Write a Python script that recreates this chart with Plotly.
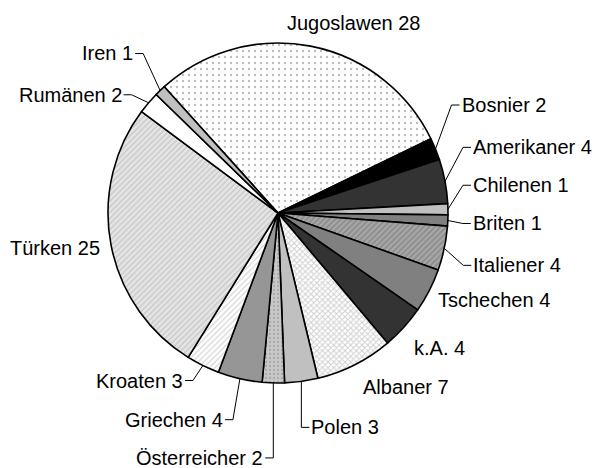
import numpy as np
import plotly.graph_objects as go

# ---- data ----
labels = ["Jugoslawen", "Bosnier", "Amerikaner", "Chilenen", "Briten", "Italiener",
          "Tschechen", "k.A.", "Albaner", "Polen", "Österreicher", "Griechen",
          "Kroaten", "Türken", "Rumänen", "Iren"]
values = [28, 2, 4, 1, 1, 4, 4, 4, 7, 3, 2, 4, 3, 25, 2, 1]

# ---- styles ----
base_colors = ["#ffffff", "#000000", "#333333", "#c0c0c0", "#808080", "#a8a8a8",
               "#808080", "#333333", "#ffffff", "#c0c0c0", "#c8c8c8", "#969696",
               "#ffffff", "#e6e6e6", "#ffffff", "#c0c0c0"]
pat_shapes = [".", "", "", "", "", "/", "", "", "x", "", ".", "", "/", "/", "", ""]
pat_fg = ["#777777", "#000", "#000", "#000", "#000", "#6e6e6e", "#000", "#000",
          "#a0a0a0", "#000", "#8a8a8a", "#000", "#b4b4b4", "#b0b0b0", "#000", "#000"]
pat_size = [6, 8, 8, 8, 8, 4, 8, 8, 4, 8, 4, 8, 4, 4, 8, 8]
pat_sol = [0.12, 0.3, 0.3, 0.3, 0.3, 0.45, 0.3, 0.3, 0.45, 0.3, 0.25, 0.3, 0.35, 0.4, 0.3, 0.3]

W, H = 595, 468
CX, CY, R = 278, 213, 170
ROT = -42

fig = go.Figure()
fig.add_trace(go.Pie(
    labels=labels, values=values, sort=False, direction="clockwise", rotation=ROT,
    textinfo="none", hoverinfo="skip", showlegend=False,
    domain=dict(x=[(CX - R) / W, (CX + R) / W], y=[1 - (CY + R) / H, 1 - (CY - R) / H]),
    marker=dict(colors=base_colors, line=dict(color="black", width=1.6),
                pattern=dict(shape=pat_shapes, fgcolor=pat_fg, bgcolor=base_colors,
                             size=pat_size, solidity=pat_sol, fillmode="overlay")),
))

def px(x):
    return x / W

def py(y):
    return 1 - y / H

# mid angles (clockwise from 12 o'clock) derived from data
vals = np.array(values, dtype=float)
cum = np.cumsum(vals) - vals / 2
mid = ROT + cum / vals.sum() * 360.0
edge_x = CX + R * np.sin(np.radians(mid))
edge_y = CY - R * np.cos(np.radians(mid))

# label layout: offsets from slice edge point; side = text side
leader = {
    "Iren": (-17, -37, "left"), "Rumänen": (-17, -8, "left"),
    "Bosnier": (16, -44, "right"), "Amerikaner": (18, -34, "right"),
    "Chilenen": (15, -24, "right"), "Briten": (15, 3, "right"),
    "Italiener": (19, 17, "right"), "Polen": (0, 46, "right"),
    "Österreicher": (0, 75, "left"), "Griechen": (-7, 41, "left"),
    "Kroaten": (-10, 15, "left"),
}
free = {
    "Jugoslawen": (43, -23, "center"), "Tschechen": (8, 9, "left"),
    "k.A.": (9, 21, "left"), "Albaner": (7, 22, "left"), "Türken": (-10, 3, "right"),
}

font = dict(family="Liberation Sans, Arial, sans-serif", size=20, color="black")
shapes, annos = [], []
for i, lab in enumerate(labels):
    text = f"{lab} {values[i]}"
    ex, ey = edge_x[i], edge_y[i]
    if lab in leader:
        dx, dy, side = leader[lab]
        bx, by = ex + dx, ey + dy
        sgn = 1 if side == "right" else -1
        dash_end = bx + sgn * 8
        shapes.append(dict(type="path", xref="paper", yref="paper",
                           path=f"M {px(ex)},{py(ey)} L {px(bx)},{py(by)} L {px(dash_end)},{py(by)}",
                           line=dict(color="black", width=1)))
        annos.append(dict(x=px(dash_end + sgn * 1), y=py(by), xref="paper", yref="paper",
                          text=text, showarrow=False, font=font,
                          xanchor="left" if side == "right" else "right", yanchor="middle",
                          borderpad=0))
    else:
        dx, dy, anc = free[lab]
        annos.append(dict(x=px(ex + dx), y=py(ey + dy), xref="paper", yref="paper",
                          text=text, showarrow=False, font=font,
                          xanchor=anc, yanchor="middle", borderpad=0))

fig.update_layout(width=W, height=H, margin=dict(l=0, r=0, t=0, b=0),
                  paper_bgcolor="white", plot_bgcolor="white",
                  shapes=shapes, annotations=annos)
fig.write_html("out.html", config={"displayModeBar": False},
               post_script="document.body.style.margin='0';document.body.style.overflow='hidden';")
